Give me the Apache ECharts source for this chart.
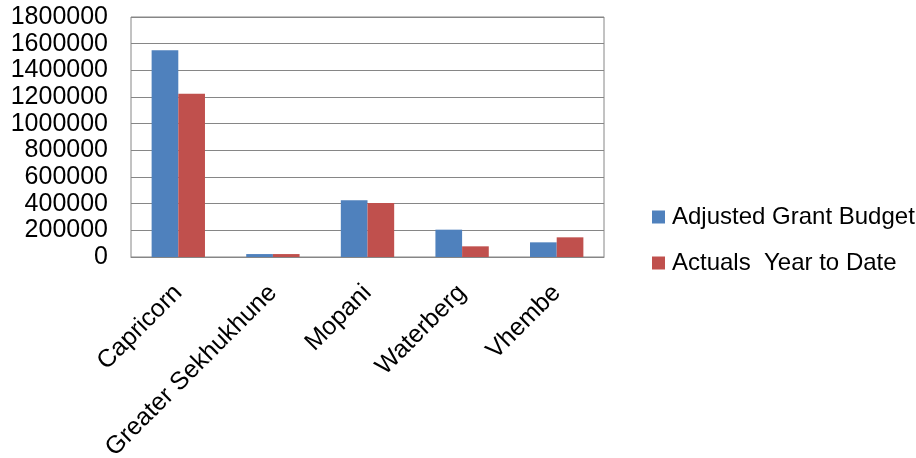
<!DOCTYPE html>
<html>
<head>
<meta charset="utf-8">
<script src="https://cdn.jsdelivr.net/npm/echarts@6/dist/echarts.min.js"></script>
<style>
  html, body { margin: 0; padding: 0; background: #ffffff; }
  #chart { width: 916px; height: 458px; }
</style>
</head>
<body>
<div id="chart"></div>
<script>
// District names along the category axis
const districts = ['Capricorn', 'Greater Sekhukhune', 'Mopani', 'Waterberg', 'Vhembe'];

// Series values
const adjustedGrantBudget = [1550000, 22000, 425000, 205000, 110000];
const actualsYearToDate = [1225000, 22000, 405000, 80000, 147500];

// Value axis ticks
const yTicks = { min: 0, max: 1800000, interval: 200000 };

const FONT = 'Liberation Sans';
const chart = echarts.init(document.getElementById('chart'), null, { renderer: 'canvas' });

chart.setOption({
  animation: false,
  backgroundColor: '#ffffff',
  textStyle: { fontFamily: FONT },
  grid: {
    left: 131, top: 17, width: 473, height: 240,
    outerBoundsMode: 'none',
    show: true, borderColor: '#868686', borderWidth: 1, backgroundColor: 'transparent'
  },
  legend: {
    orient: 'vertical',
    left: 647, top: 200,
    itemWidth: 13, itemHeight: 13, itemGap: 22,
    icon: 'rect',
    textStyle: { fontFamily: FONT, fontSize: 24, color: '#000000', padding: [0, 0, 0, 2] },
    data: ['Adjusted Grant Budget', 'Actuals  Year to Date']
  },
  xAxis: {
    type: 'category',
    data: districts,
    axisLine: { show: true, lineStyle: { color: '#868686', width: 1 } },
    axisTick: { show: false },
    axisLabel: {
      rotate: 45, margin: 32, interval: 0,
      fontFamily: FONT, fontSize: 25, color: '#000000'
    }
  },
  yAxis: {
    type: 'value',
    min: yTicks.min, max: yTicks.max, interval: yTicks.interval,
    axisLine: { show: false },
    axisTick: { show: false },
    axisLabel: {
      margin: 23, fontFamily: FONT, fontSize: 25, color: '#000000',
      formatter: v => String(v)
    },
    splitLine: { show: true, lineStyle: { color: '#868686', width: 1 } }
  },
  series: [
    {
      name: 'Adjusted Grant Budget',
      type: 'bar',
      data: adjustedGrantBudget,
      barGap: '0%',
      barCategoryGap: '43.6%',
      itemStyle: { color: '#4F81BD' }
    },
    {
      name: 'Actuals  Year to Date',
      type: 'bar',
      data: actualsYearToDate,
      barGap: '0%',
      barCategoryGap: '43.6%',
      itemStyle: { color: '#C0504D' }
    }
  ]
});
</script>
</body>
</html>
